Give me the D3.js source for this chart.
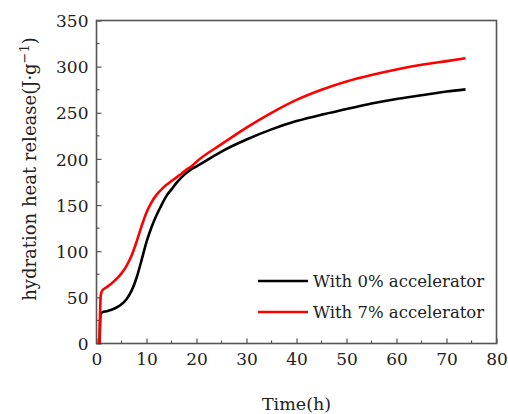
<!DOCTYPE html>
<html><head><meta charset="utf-8">
<script src="https://cdn.jsdelivr.net/npm/d3@7"></script>
<style>
html,body{margin:0;padding:0;background:#fff;}
svg{display:block;}
svg text{font-family:"DejaVu Serif",serif;fill:#222;}
</style></head><body>
<svg id="c" width="508" height="414"></svg>
<script>
const xTicks = [0,10,20,30,40,50,60,70,80];
const yTicks = [0,50,100,150,200,250,300,350];
const seriesNames = ["With 0% accelerator","With 7% accelerator"];
const seriesColors = ["#000000","#ff0000"];
const blackTime = [0.6,0.7,0.85,1.2,2,3,4,5,6,7,8,9,10,11,12,13,14,15,16,17,18,19,20,25,30,35,40,45,50,55,60,65,70,73.8];
const blackHeat = [0,20,32,34,35,36.5,39,42.5,48,57,71,90,110,126,139,150,160,167,174,180,185,189,192,208,221,232,241,248,254,260,265,269,273,275.4];
const redTime = [0.6,0.7,0.85,1.1,2,3,4,5,6,7,8,9,10,11,12,13,14,15,16,17,18,19,20,25,30,35,40,45,50,55,60,65,70,73.8];
const redHeat = [0,30,52,57,61,65,70,76,84,95,110,127,142,153,161,167,172,176,180,184,188.5,192,197,216,234,250,264,275,284,291,297,302,306,309];

const svg = d3.select("#c");
const L=96.5, R=496.5, T=20.5, B=343.5;
const x = d3.scaleLinear().domain([0,80]).range([L,R]);
const y = d3.scaleLinear().domain([0,350]).range([B,T]);

const g = svg.append("g");
const xMinor = d3.range(5,80,10), yMinor = d3.range(25,350,50);
g.selectAll(".xm").data(xMinor).join("line")
 .attr("x1",d=>x(d)).attr("x2",d=>x(d)).attr("y1",B).attr("y2",B-3)
 .attr("stroke","#555").attr("stroke-width",1.2);
g.selectAll(".ym").data(yMinor).join("line")
 .attr("y1",d=>y(d)).attr("y2",d=>y(d)).attr("x1",L).attr("x2",L+3)
 .attr("stroke","#555").attr("stroke-width",1.2);

const xAxis = d3.axisBottom(x).tickValues(xTicks).tickSize(-5).tickPadding(9);
const yAxis = d3.axisLeft(y).tickValues(yTicks).tickSize(-5).tickPadding(8);
const gx = svg.append("g").attr("transform",`translate(0,${B})`).call(xAxis);
const gy = svg.append("g").attr("transform",`translate(${L},0)`).call(yAxis);
[gx,gy].forEach(a=>{
  a.attr("font-family",null).attr("font-size",null);
  a.select(".domain").remove();
  a.selectAll(".tick line").attr("stroke","#555").attr("stroke-width",1.2);
  a.selectAll(".tick text").style("font-size","17px").attr("fill","#222");
});
gy.selectAll(".tick text").attr("dy","0.36em");

svg.append("rect").attr("x",L).attr("y",T).attr("width",R-L).attr("height",B-T)
 .attr("fill","none").attr("stroke","#555").attr("stroke-width",1.6);

const line = d3.line().curve(d3.curveMonotoneX);
const series = [
  blackTime.map((t,i)=>[x(t),y(blackHeat[i])]),
  redTime.map((t,i)=>[x(t),y(redHeat[i])])
];
series.forEach((s,i)=>{
  svg.append("path").attr("d",line(s)).attr("fill","none")
   .attr("stroke",seriesColors[i]).attr("stroke-width",2.6).attr("stroke-linejoin","round");
});

const legY=[281,312];
seriesNames.forEach((n,i)=>{
  svg.append("line").attr("x1",258).attr("x2",308).attr("y1",legY[i]).attr("y2",legY[i])
    .attr("stroke",seriesColors[i]).attr("stroke-width",2.6);
  svg.append("text").attr("x",313).attr("y",legY[i]+6).style("font-size","16.5px").text(n);
});

svg.append("text").attr("x",(L+R)/2).attr("y",410).attr("text-anchor","middle")
 .style("font-size","17.5px").text("Time(h)");
const yt = svg.append("text").attr("transform",`translate(36,${(T+B)/2-13}) rotate(-90)`)
 .attr("text-anchor","middle").style("font-size","18px");
yt.append("tspan").text("hydration heat release(J·g");
yt.append("tspan").attr("dy","-7").style("font-size","13px").text("−1");
yt.append("tspan").attr("dy","7").text(")");
</script>
</body></html>
